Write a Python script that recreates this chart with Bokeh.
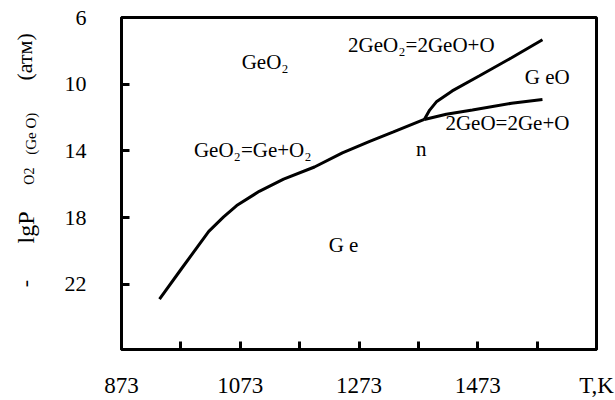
import math
from bokeh.plotting import figure
from bokeh.models import Range1d, FixedTicker, Label
from bokeh.layouts import row
from bokeh.embed import file_html
from bokeh.resources import INLINE

# ---- data ----
t_main = [937, 974, 1020, 1045, 1067, 1105, 1146, 1198, 1245, 1291, 1331, 1383]
lgp_main = [22.88, 21.06, 18.82, 17.95, 17.27, 16.42, 15.69, 14.96, 14.11, 13.43, 12.86, 12.11]

t_upper = [1383, 1392, 1404, 1430, 1476, 1530, 1582]
lgp_upper = [12.11, 11.55, 11.03, 10.40, 9.49, 8.41, 7.33]

t_lower = [1383, 1420, 1464, 1530, 1582]
lgp_lower = [12.11, 11.80, 11.54, 11.14, 10.91]

x_ticks = [873, 973, 1073, 1173, 1273, 1373, 1473, 1573, 1673]
x_tick_labels = ["873", "", "1073", "", "1273", "", "1473", "", "T,K"]
y_ticks = [6, 10, 14, 18, 22]

region_texts = ["GeO\u2082", "2GeO\u2082=2GeO+O", "G eO", "2GeO=2Ge+O", "n", "GeO\u2082=Ge+O\u2082", "G e"]
region_t = [1115, 1378, 1590, 1523, 1378, 1094, 1247]
region_lgp = [8.66, 7.65, 9.54, 12.32, 13.86, 13.97, 19.64]

ylabel_parts = ["-", "lgP", "O2", "(Ge O)", "(\u0430\u0442\u043c)"]
ylabel_x = [24, 25, 29, 30, 24]
ylabel_lgp = [21.95, 18.58, 15.51, 12.97, 8.36]
ylabel_sizes = ["22px", "24px", "14px", "15px", "22px"]

FONT = "Liberation Serif"
Y_RANGE = (25.9, 6)

# ---- left strip holding the composite y-axis title ----
side = figure(width=60, height=400, output_backend="svg", toolbar_location=None,
              x_range=Range1d(0, 60), y_range=Range1d(*Y_RANGE),
              min_border_left=0, min_border_right=0, min_border_top=17, min_border_bottom=46)
side.axis.visible = False
side.grid.visible = False
side.outline_line_color = None
side.background_fill_color = "white"
side.border_fill_color = "white"
for s, x, v, fs in zip(ylabel_parts, ylabel_x, ylabel_lgp, ylabel_sizes):
    side.add_layout(Label(x=x, y=v, text=s, text_font=FONT, text_font_size=fs, angle=math.pi / 2,
                          text_align="center", text_baseline="middle", text_color="black"))

# ---- main chart ----
p = figure(width=555, height=400, output_backend="svg", toolbar_location=None,
           x_range=Range1d(873, 1673), y_range=Range1d(*Y_RANGE),
           min_border_left=61, min_border_right=19, min_border_top=17, min_border_bottom=46)
p.background_fill_color = "white"
p.border_fill_color = "white"
p.xgrid.visible = False
p.ygrid.visible = False
p.outline_line_color = "black"
p.outline_line_width = 3
p.outline_line_alpha = 1.0

for ax in (p.xaxis, p.yaxis):
    ax.axis_line_width = 3
    ax.axis_line_color = "black"
    ax.major_tick_in = 8
    ax.major_tick_out = 0
    ax.major_tick_line_width = 3
    ax.major_tick_line_color = "black"
    ax.minor_tick_line_color = None
    ax.major_label_text_font = FONT
    ax.major_label_text_color = "black"

p.xaxis.major_label_text_font_size = "23px"
p.yaxis.major_label_text_font_size = "22px"
p.xaxis.ticker = FixedTicker(ticks=x_ticks)
p.xaxis.major_label_overrides = {t: s for t, s in zip(x_ticks, x_tick_labels)}
p.xaxis.major_label_standoff = 23
p.yaxis.ticker = FixedTicker(ticks=y_ticks)
p.yaxis.major_label_standoff = 35

p.line(t_main, lgp_main, line_color="black", line_width=3)
p.line(t_upper, lgp_upper, line_color="black", line_width=3)
p.line(t_lower, lgp_lower, line_color="black", line_width=3)

for s, t, v in zip(region_texts, region_t, region_lgp):
    p.add_layout(Label(x=t, y=v, text=s, text_font=FONT, text_font_size="21px",
                       text_align="center", text_baseline="middle", text_color="black"))

layout = row(side, p, spacing=0)
open("out.html", "w").write(file_html(layout, INLINE))
